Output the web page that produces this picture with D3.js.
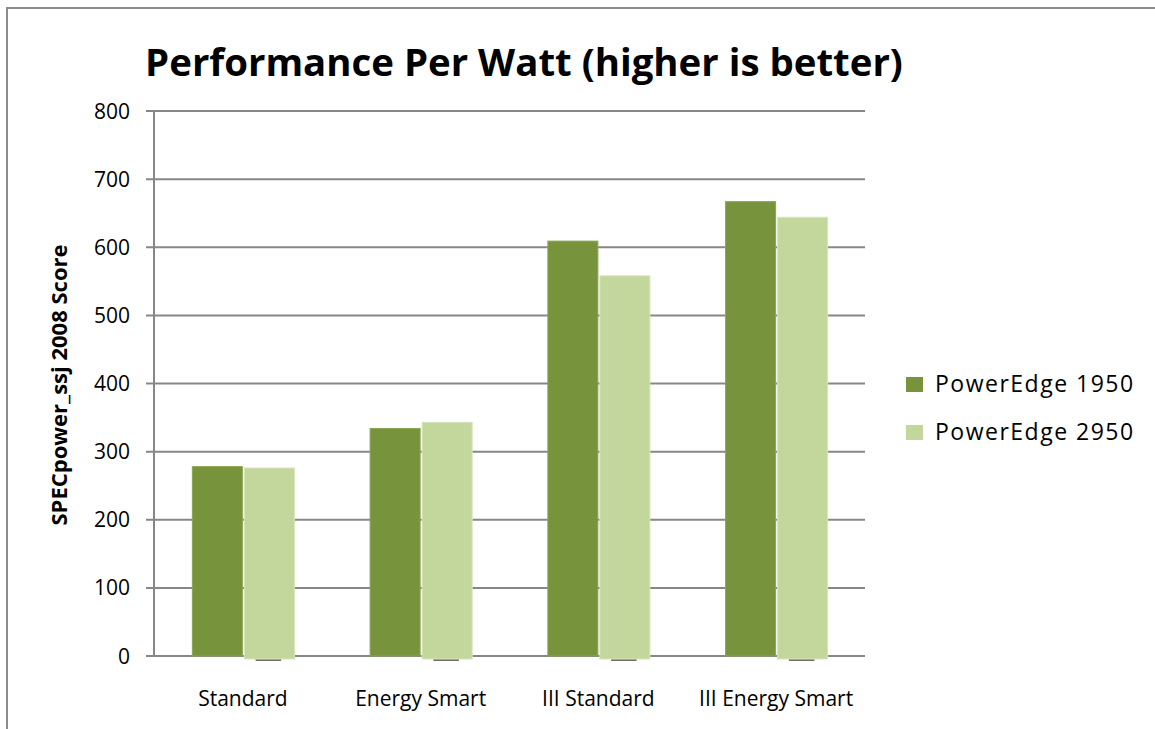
<!DOCTYPE html>
<html>
<head>
<meta charset="utf-8">
<script src="https://cdn.jsdelivr.net/npm/d3@7"></script>
<style>
  body { margin: 0; background: #fff; }
  text { font-family: "Open Sans", sans-serif; fill: #000; }
</style>
</head>
<body>
<div id="chart"></div>
<script>
// data
const categories = ['Standard', 'Energy Smart', 'III Standard', 'III Energy Smart']
const seriesNames = ['PowerEdge 1950', 'PowerEdge 2950']
const pe1950 = [278, 334, 609, 667]
const pe2950 = [276, 343, 558, 644]
const yTicks = [0, 100, 200, 300, 400, 500, 600, 700, 800]
const colors = ['#77933c', '#c3d69b']
const strokes = ['#8aa551', '#d7e4bd']

const width = 1155
const height = 729
const margin = {top: 111, left: 154, right: 290, bottom: 73}

const svg = d3.select('#chart')
  .append('svg')
  .attr('width', width)
  .attr('height', height)

// outer chart border (cut off at right and bottom)
svg.append('rect')
  .attr('x', 7)
  .attr('y', 8)
  .attr('width', width + 20)
  .attr('height', height + 20)
  .attr('fill', '#fff')
  .attr('stroke', '#8c8c8c')
  .attr('stroke-width', 2)

const x0 = d3.scaleBand()
  .domain(categories)
  .range([margin.left, width - margin.right])
  .paddingInner(0.426)
  .paddingOuter(0.213)
const x1 = d3.scaleBand()
  .domain(seriesNames)
  .range([0, x0.bandwidth()])
const y = d3.scaleLinear()
  .domain([0, 800])
  .range([height - margin.bottom, margin.top])

// gridlines
svg.append('g')
  .selectAll('line')
  .data(yTicks)
  .enter()
  .append('line')
  .attr('x1', margin.left - 8)
  .attr('x2', width - margin.right)
  .attr('y1', d => y(d))
  .attr('y2', d => y(d))
  .style('stroke', '#878787')
  .style('stroke-width', 2)

// y axis line
svg.append('line')
  .attr('x1', margin.left)
  .attr('x2', margin.left)
  .attr('y1', y(800))
  .attr('y2', y(0))
  .style('stroke', '#878787')
  .style('stroke-width', 2)

svg.append('g')
  .selectAll('text')
  .data(yTicks)
  .enter()
  .append('text')
  .attr('x', margin.left - 24)
  .attr('y', d => y(d))
  .attr('dy', '0.36em')
  .attr('text-anchor', 'end')
  .style('font-size', '21px')
  .text(d => d)

const rows = categories.map((c, i) => ({cat: c, vals: [pe1950[i], pe2950[i]]}))

const groups = svg.append('g')
  .selectAll('g')
  .data(rows)
  .enter()
  .append('g')
  .attr('transform', d => `translate(${x0(d.cat)},0)`)

// small grey shadow under the light bars
groups.append('rect')
  .attr('x', x1(seriesNames[1]) + x1.bandwidth() * 0.25)
  .attr('y', y(0) + 3)
  .attr('width', x1.bandwidth() * 0.5)
  .attr('height', 2)
  .style('fill', '#6f6f6f')

groups.selectAll('rect.bar')
  .data(d => d.vals.map((v, i) => ({name: seriesNames[i], v, i})))
  .enter()
  .append('rect')
  .attr('class', 'bar')
  .attr('x', d => x1(d.name) + 0.5 + d.i)
  .attr('y', d => y(d.v))
  .attr('width', x1.bandwidth() - 1)
  .attr('height', d => y(0) - y(d.v) + (d.i === 1 ? 3 : 0))
  .style('fill', d => colors[d.i])
  .style('stroke', d => strokes[d.i])
  .style('stroke-width', 1)

// x labels
svg.append('g')
  .selectAll('text')
  .data(categories)
  .enter()
  .append('text')
  .attr('x', d => x0(d) + x0.bandwidth() / 2)
  .attr('y', 706)
  .attr('text-anchor', 'middle')
  .style('font-size', '21px')
  .text(d => d)

// title
svg.append('text')
  .attr('x', 524)
  .attr('y', 76)
  .attr('text-anchor', 'middle')
  .style('font-size', '38.4px')
  .style('font-weight', 'bold')
  .text('Performance Per Watt (higher is better)')

// y axis title
svg.append('text')
  .attr('transform', 'translate(67,385) rotate(-90)')
  .attr('text-anchor', 'middle')
  .style('font-size', '22px')
  .style('font-weight', 'bold')
  .text('SPECpower_ssj 2008 Score')

// legend
const legend = svg.append('g')
  .selectAll('g')
  .data(seriesNames)
  .enter()
  .append('g')
  .attr('transform', (d, i) => `translate(906,${377 + i * 48})`)
legend.append('rect')
  .attr('width', 17)
  .attr('height', 15)
  .style('fill', (d, i) => colors[i])
legend.append('text')
  .attr('x', 29)
  .attr('y', 15)
  .style('font-size', '23px')
  .style('letter-spacing', '1.5px')
  .text(d => d)
</script>
</body>
</html>
